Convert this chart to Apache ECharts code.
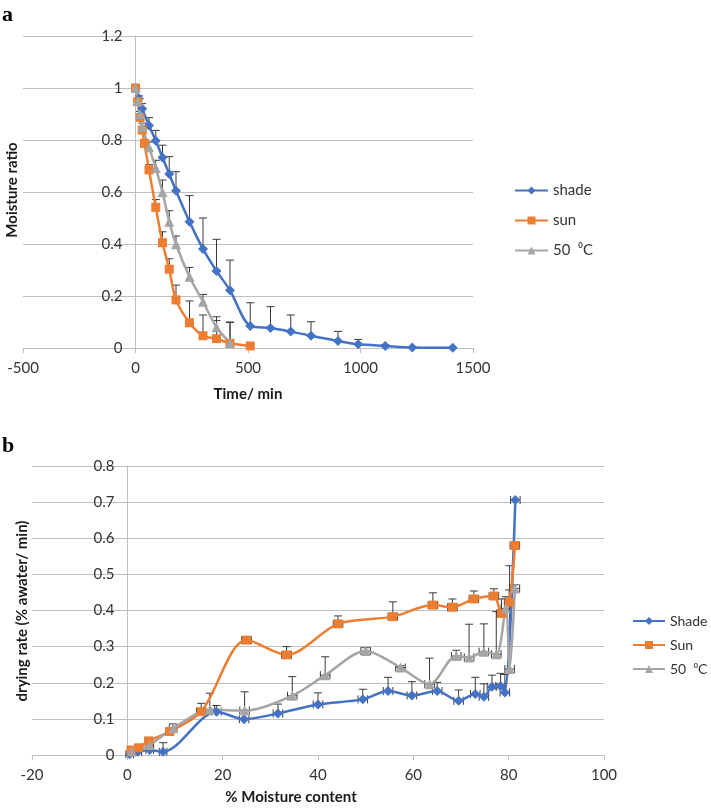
<!DOCTYPE html>
<html>
<head>
<meta charset="utf-8">
<script src="https://cdn.jsdelivr.net/npm/echarts@6/dist/echarts.min.js"></script>
<style>
html,body{margin:0;padding:0;background:#fff;}
.c{position:absolute;left:0;top:0;width:711px;height:809px;}
</style>
</head>
<body>
<div id="c1" class="c"></div>
<div id="c2" class="c"></div>
<script>
// ---------- Chart a: moisture ratio vs time ----------
const shadeTime = [0, 15, 30, 60, 90, 120, 150, 180, 240, 300, 360, 420, 510, 600, 690, 780, 900, 990, 1110, 1230, 1410];
const shadeMR   = [1.0, 0.96, 0.92, 0.856, 0.797, 0.733, 0.669, 0.605, 0.486, 0.381, 0.296, 0.222, 0.085, 0.077, 0.063, 0.047, 0.027, 0.014, 0.008, 0.002, 0.001];
const shadeMRErr= [0, 0.01, 0.02, 0.03, 0.04, 0.047, 0.067, 0.073, 0.1, 0.119, 0.122, 0.116, 0.089, 0.082, 0.064, 0.054, 0.037, 0.019, 0.005, 0, 0];

const sunTime = [0, 10, 20, 30, 40, 60, 90, 120, 150, 180, 240, 300, 360, 420, 510];
const sunMR   = [1.0, 0.947, 0.887, 0.838, 0.787, 0.685, 0.541, 0.405, 0.303, 0.185, 0.097, 0.047, 0.036, 0.018, 0.008];
const sunMRErr= [0, 0.005, 0.01, 0.01, 0.015, 0.02, 0.03, 0.042, 0.04, 0.057, 0.084, 0.08, 0.07, 0.08, 0];

const hotTime = [0, 10, 20, 30, 60, 90, 120, 150, 180, 240, 300, 360, 420];
const hotMR   = [1.0, 0.95, 0.90, 0.85, 0.772, 0.692, 0.599, 0.486, 0.399, 0.274, 0.178, 0.08, 0.02];
const hotMRErr= [0, 0.005, 0.01, 0.015, 0.02, 0.03, 0.047, 0.042, 0.032, 0.036, 0.028, 0.04, 0.08];

const timeTicks = {min: -500, max: 1500, step: 500};
const mrTicks = {min: 0, max: 1.2, step: 0.2};

// ---------- Chart b: drying rate vs moisture content ----------
const shadeMC  = [0.5, 2.2, 4.7, 7.5, 18.7, 24.5, 31.6, 40.0, 49.4, 54.7, 59.7, 65.0, 69.5, 73.0, 74.8, 76.5, 78.3, 79.2, 81.4];
const shadeDR  = [0.002, 0.009, 0.014, 0.009, 0.12, 0.099, 0.115, 0.14, 0.154, 0.177, 0.165, 0.177, 0.15, 0.169, 0.161, 0.189, 0.191, 0.173, 0.706];
const shadeDRErr=[0, 0.005, 0.01, 0.025, 0.017, 0, 0.026, 0.032, 0.028, 0.038, 0.038, 0.024, 0.03, 0.046, 0.036, 0.032, 0.035, 0.05, 0];
const shadeMCErr=[0.8, 0.8, 0.8, 0.8, 1.0, 1.0, 1.0, 1.0, 1.0, 1.0, 1.0, 1.0, 1.0, 1.0, 1.0, 1.0, 1.0, 1.0, 1.0];

const sunMC  = [0.8, 2.4, 4.5, 8.9, 15.5, 25.0, 33.4, 44.2, 55.7, 64.1, 68.2, 72.7, 76.9, 78.5, 80.1, 81.3];
const sunDR  = [0.014, 0.02, 0.039, 0.065, 0.12, 0.318, 0.277, 0.363, 0.383, 0.415, 0.409, 0.432, 0.44, 0.392, 0.423, 0.58];
const sunDRErr=[0, 0, 0.005, 0.01, 0.023, 0.005, 0.023, 0.022, 0.041, 0.034, 0.023, 0.022, 0.02, 0.04, 0.034, 0];
const sunMCErr=[0.8, 0.8, 0.8, 0.8, 1.0, 1.0, 1.0, 1.0, 1.0, 1.0, 1.0, 1.0, 1.0, 1.0, 1.0, 1.0];

const hotMC  = [0.9, 4.7, 9.6, 17.3, 24.6, 34.6, 41.5, 50.0, 57.3, 63.4, 69.0, 71.7, 74.8, 77.4, 79.4, 80.2, 81.3];
const hotDR  = [0.01, 0.028, 0.074, 0.125, 0.123, 0.164, 0.221, 0.288, 0.242, 0.196, 0.274, 0.27, 0.286, 0.279, 0.406, 0.238, 0.461];
const hotDRErr=[0, 0.005, 0.012, 0.046, 0.052, 0.053, 0.051, 0.009, 0.005, 0.072, 0.016, 0.092, 0.077, 0.118, 0.032, 0.286, 0.01];
const hotMCErr=[0.8, 0.8, 0.8, 1.0, 1.0, 1.0, 1.0, 1.0, 1.0, 1.0, 1.0, 1.0, 1.0, 1.0, 1.0, 1.0, 1.0];

const mcTicks = {min: -20, max: 100, step: 20};
const drTicks = {min: 0, max: 0.8, step: 0.1};

const legendA = ['shade', 'sun', '50  \u2070C'];
const legendB = ['Shade', 'Sun', '50  \u2070C'];

// ---------- styling ----------
const BLUE = '#4472C4', ORANGE = '#ED7D31', GRAY = '#A5A5A5';
const GRID = '#BFBFBF', TXT = '#333333', ERR = '#3a3a3a';
const FONT = 'Lato, "Open Sans", sans-serif';

function zip(xs, ys) { return xs.map((x, i) => [x, ys[i]]); }
function errData(xs, ys, ye, xe) { return xs.map((x, i) => [x, ys[i], ye[i], xe ? xe[i] : 0]); }
function fmt(v) { return String(parseFloat(Number(v).toFixed(3))); }

function errSeries(data, horiz) {
  return {
    type: 'custom', silent: true, z: 1,
    encode: {x: 0, y: 1},
    data: data,
    renderItem: function (params, api) {
      const x = api.value(0), y = api.value(1), up = api.value(2), xe = api.value(3);
      const p0 = api.coord([x, y]);
      const children = [];
      const st = {stroke: ERR, lineWidth: 1};
      if (up > 0) {
        const p1 = api.coord([x, y + up]);
        children.push({type: 'line', shape: {x1: p0[0], y1: p0[1], x2: p1[0], y2: p1[1]}, style: st});
        children.push({type: 'line', shape: {x1: p1[0] - 4, y1: p1[1], x2: p1[0] + 4, y2: p1[1]}, style: st});
      }
      if (horiz && xe > 0) {
        const pl = api.coord([x - xe, y]), pr = api.coord([x + xe, y]);
        children.push({type: 'line', shape: {x1: pl[0], y1: pl[1], x2: pr[0], y2: pr[1]}, style: st});
        children.push({type: 'line', shape: {x1: pl[0], y1: pl[1] - 4, x2: pl[0], y2: pl[1] + 4}, style: st});
        children.push({type: 'line', shape: {x1: pr[0], y1: pr[1] - 4, x2: pr[0], y2: pr[1] + 4}, style: st});
      }
      return {type: 'group', children: children};
    }
  };
}

function lineSeries(name, data, color, symbol, size, smooth) {
  return {
    name: name, type: 'line', data: data, z: 3,
    smooth: smooth, symbol: symbol, symbolSize: size,
    lineStyle: {color: color, width: 2.5},
    itemStyle: {color: color},
    emphasis: {disabled: true}
  };
}

function xAxisOf(t) {
  return {
    type: 'value', min: t.min, max: t.max, interval: t.step,
    axisLine: {show: true, onZero: true, lineStyle: {color: GRID, width: 1}},
    axisTick: {show: true, length: 5, lineStyle: {color: GRID}},
    axisLabel: {color: TXT, fontSize: 15, fontFamily: FONT, margin: 13, formatter: fmt},
    splitLine: {show: false}
  };
}
// y axis drawn where x = 0 (Excel style): shifted by offset from the grid's left edge
function yAxisOf(t, shift) {
  return {
    type: 'value', min: t.min, max: t.max, interval: t.step,
    offset: -shift,
    axisLine: {show: true, onZero: false, lineStyle: {color: GRID, width: 1}},
    axisTick: {show: false},
    axisLabel: {color: TXT, fontSize: 15, fontFamily: FONT, margin: 13, formatter: fmt},
    splitLine: {show: true, lineStyle: {color: GRID, width: 1}}
  };
}

function titleText(text, x, y, rot) {
  return {
    type: 'text', x: x, y: y, rotation: rot || 0,
    style: {text: text, fill: '#1a1a1a', font: 'bold 15px ' + FONT, textAlign: 'center', textVerticalAlign: 'middle'}
  };
}

// ---------- Chart a ----------
const c1 = echarts.init(document.getElementById('c1'), null, {renderer: 'canvas'});
c1.setOption({
  animation: false,
  grid: {left: 23, right: 238, top: 36, bottom: 461, containLabel: false, outerBoundsMode: 'none'},
  xAxis: xAxisOf(timeTicks),
  yAxis: yAxisOf(mrTicks, 112.5),
  legend: {
    orient: 'vertical', left: 514, top: 183, padding: 0, itemWidth: 33, itemHeight: 10, itemGap: 15,
    textStyle: {fontSize: 15, color: TXT, fontFamily: FONT}, data: legendA
  },
  graphic: [
    {type: 'text', left: 2, top: 4, style: {text: 'a', font: 'bold 22px "Liberation Serif", serif', fill: '#000'}},
    titleText('Moisture ratio', 12, 190, Math.PI / 2),
    titleText('Time/ min', 248, 394)
  ],
  series: [
    errSeries(errData(shadeTime, shadeMR, shadeMRErr), false),
    errSeries(errData(sunTime, sunMR, sunMRErr), false),
    errSeries(errData(hotTime, hotMR, hotMRErr), false),
    lineSeries(legendA[0], zip(shadeTime, shadeMR), BLUE, 'diamond', 10, 0.3),
    lineSeries(legendA[1], zip(sunTime, sunMR), ORANGE, 'rect', 9, 0.3),
    lineSeries(legendA[2], zip(hotTime, hotMR), GRAY, 'triangle', 10, 0.3)
  ]
});

// ---------- Chart b ----------
const c2 = echarts.init(document.getElementById('c2'), null, {renderer: 'canvas'});
c2.setOption({
  animation: false,
  grid: {left: 32, right: 107, top: 466, bottom: 54, containLabel: false, outerBoundsMode: 'none'},
  xAxis: xAxisOf(mcTicks),
  yAxis: yAxisOf(drTicks, 95.5),
  legend: {
    orient: 'vertical', left: 632, top: 614, padding: 0, itemWidth: 32, itemHeight: 10, itemGap: 10,
    textStyle: {fontSize: 14, color: TXT, fontFamily: FONT}, data: legendB
  },
  graphic: [
    {type: 'text', left: 2, top: 435, style: {text: 'b', font: 'bold 22px "Liberation Serif", serif', fill: '#000'}},
    titleText('drying rate (% awater/ min)', 22, 611, Math.PI / 2),
    titleText('% Moisture content', 291, 797)
  ],
  series: [
    errSeries(errData(shadeMC, shadeDR, shadeDRErr, shadeMCErr), true),
    errSeries(errData(sunMC, sunDR, sunDRErr, sunMCErr), true),
    errSeries(errData(hotMC, hotDR, hotDRErr, hotMCErr), true),
    lineSeries(legendB[0], zip(shadeMC, shadeDR), BLUE, 'diamond', 10, 0.3),
    lineSeries(legendB[1], zip(sunMC, sunDR), ORANGE, 'rect', 9, 0.3),
    lineSeries(legendB[2], zip(hotMC, hotDR), GRAY, 'triangle', 10, 0.3)
  ]
});
</script>
</body>
</html>
